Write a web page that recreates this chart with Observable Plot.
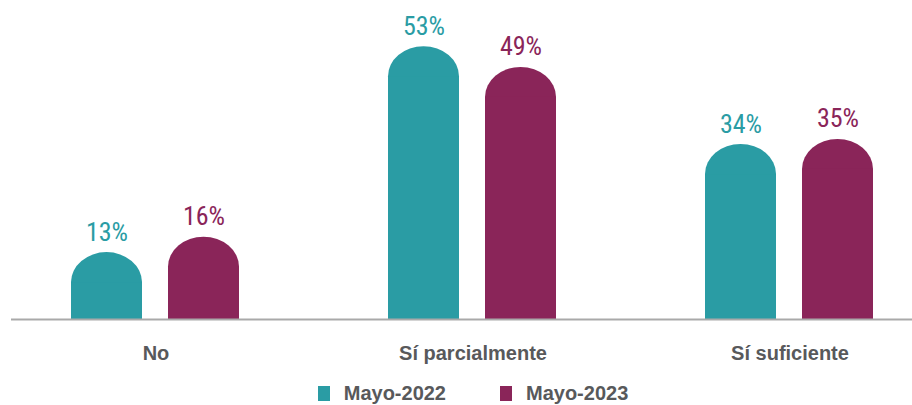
<!DOCTYPE html>
<html>
<head>
<meta charset="utf-8">
<script src="https://cdn.jsdelivr.net/npm/d3@7"></script>
<script src="https://cdn.jsdelivr.net/npm/@observablehq/plot@0.6"></script>
<style>
  html, body { margin: 0; padding: 0; background: #fff; }
  #chart svg { display: block; }
  .legend { display: flex; justify-content: center; align-items: center; height: 24px; margin-top: 9px;
    font-family: "Liberation Sans", Arial, sans-serif; font-weight: bold; font-size: 20px; color: #58595b; padding-left: 34px; }
  .legend .item { display: flex; align-items: center; margin: 0 27px; }
  .legend .sw { width: 12px; height: 15px; margin-right: 14px; }
</style>
</head>
<body>
<div id="chart"></div>
<script>
const categories = ["No", "Sí parcialmente", "Sí suficiente"];
const series = ["Mayo-2022", "Mayo-2023"];
const values2022 = [13, 53, 34];
const values2023 = [16, 49, 35];
const colors = ["#2a9ca4", "#8a2559"];

const data = categories.flatMap((c, i) => [
  {category: c, series: series[0], value: values2022[i]},
  {category: c, series: series[1], value: values2023[i]}
]);

const numFont = '"Liberation Sans Narrow", "Roboto Condensed", "DejaVu Sans Condensed", "Liberation Sans", sans-serif';

const chart = Plot.plot({
  width: 912,
  height: 372,
  marginTop: 0,
  marginBottom: 53,
  marginLeft: -4,
  marginRight: -36,
  style: {background: "white"},
  fx: {domain: categories, padding: 0, label: null},
  x: {domain: series, paddingInner: 0.265, paddingOuter: 0.75, axis: null},
  y: {domain: [0, 62], axis: null},
  color: {domain: series, range: colors},
  marks: [
    Plot.barY(data, {fx: "category", x: "series", y: "value", fill: "series", rx: 36, ry: 30}),
    Plot.barY(data, {fx: "category", x: "series", y: "value", fill: "series", insetTop: 30}),
    Plot.ruleY([{category: categories[0]}], {fx: "category", y: () => 0, stroke: "#a9a9a9", strokeWidth: 2, insetLeft: 14}),
    Plot.ruleY(categories.slice(1).map(c => ({category: c})), {fx: "category", y: () => 0, stroke: "#a9a9a9", strokeWidth: 2}),
    Plot.text(data, {fx: "category", x: "series", y: "value", text: d => d.value + "%", fill: "series",
      dy: -12, lineAnchor: "bottom", fontSize: 26, fontFamily: numFont}),
    Plot.axisFx({anchor: "bottom", tickSize: 0, tickPadding: 26, fontSize: 20, fontWeight: "bold",
      fill: "#58595b", fontFamily: '"Liberation Sans", Arial, sans-serif', label: null})
  ]
});
document.getElementById("chart").appendChild(chart);

const legend = document.createElement("div");
legend.className = "legend";
series.forEach((s, i) => {
  const item = document.createElement("div");
  item.className = "item";
  const sw = document.createElement("span");
  sw.className = "sw";
  sw.style.background = colors[i];
  const t = document.createElement("span");
  t.textContent = s;
  item.appendChild(sw);
  item.appendChild(t);
  legend.appendChild(item);
});
document.body.appendChild(legend);
</script>
</body>
</html>
